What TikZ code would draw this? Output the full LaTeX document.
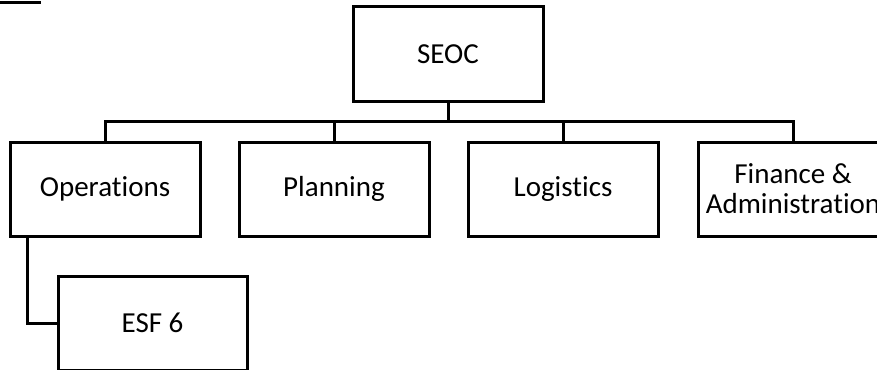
\documentclass[tikz,border=0pt]{standalone}
\usepackage{fontspec}
\setmainfont{Carlito}[Ligatures={NoCommon}]
\usepackage{tikz}

\begin{document}
\begin{tikzpicture}[x=1pt,y=-1pt,line width=3pt,
    unitbox/.style={draw,line width=3pt,minimum width=190pt,minimum height=94pt,
        inner sep=2pt,align=center,font=\fontsize{29}{30}\selectfont}]
    \useasboundingbox (0,0) rectangle (877,369);

    % Marca superior izquierda.
    \fill (0,1) rectangle (41,4);

    % Cajas.
    \node[unitbox] (seoc) at (448,54) {SEOC};
    \node[unitbox] (ops) at (105,189) {Operations};
    \node[unitbox] (plan) at (334,189) {Planning};
    \node[unitbox] (logi) at (563,189) {Logistics};
    \node[unitbox] (fin) at (793,189) {Finance \&\\Administration};
    \node[unitbox,minimum width=189pt] (esf) at (152.5,323) {ESF 6};

    % Conectores.
    \coordinate (bus) at (448,121);
    \draw (seoc) -- (bus);
    \draw (ops.north) |- (bus) -| (fin.north);
    \foreach \n in {plan,logi}{
        \draw (\n.north) -- (\n.north |- bus);
    }
    \draw ([xshift=19pt]ops.south west) |- (esf.west);
\end{tikzpicture}
\end{document}
